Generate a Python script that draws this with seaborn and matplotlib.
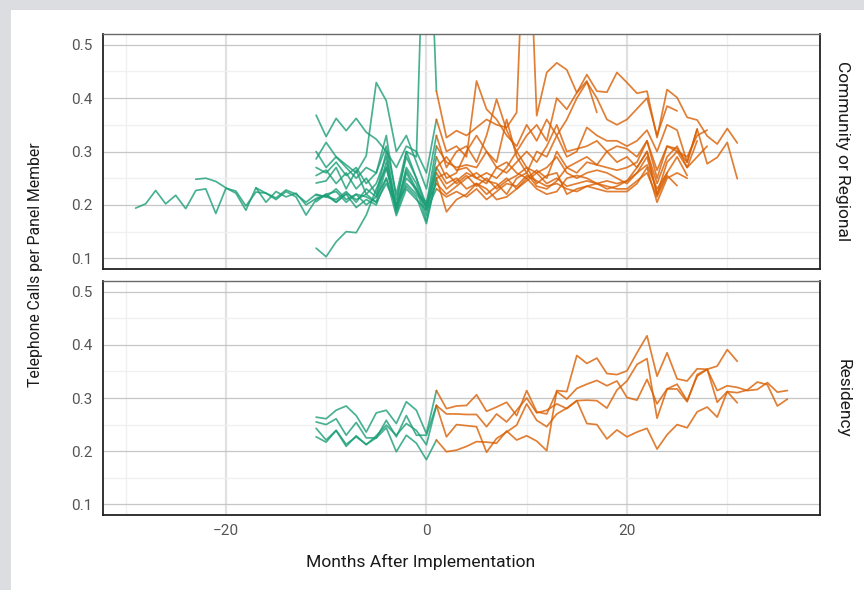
import numpy as np
import pandas as pd
import matplotlib
matplotlib.use("Agg")
import matplotlib.pyplot as plt
import seaborn as sns
from matplotlib.patches import Rectangle
from matplotlib.ticker import FixedLocator

sns.set_theme(style="white")
plt.rcParams['font.family'] = ['Roboto', 'DejaVu Sans']

# ---------------- data ----------------
PANELS = ["Community or Regional", "Residency"]
X_TICKS = [-20, 0, 20]
X_TICK_LABELS = ["\u221220", "0", "20"]
Y_TICKS = [0.1, 0.2, 0.3, 0.4, 0.5]
Y_TICK_LABELS = ["0.1", "0.2", "0.3", "0.4", "0.5"]

# Community or Regional sites: pre-period start month, pre values (to month 0), post values (from month 1)
cr1_start = -29
cr1_pre = [0.194, 0.202, 0.227, 0.202, 0.218, 0.193, 0.227, 0.230, 0.184, 0.231,
           0.226, 0.198, 0.224, 0.222, 0.213, 0.228, 0.220, 0.205,
           0.220, 0.215, 0.210, 0.225, 0.205, 0.230, 0.215, 0.250, 0.195, 0.260, 0.225, 0.205]
cr1_post = [0.27, 0.24, 0.25, 0.23, 0.24, 0.22, 0.235, 0.25, 0.23, 0.245, 0.26, 0.24, 0.25,
            0.235, 0.24, 0.245, 0.24, 0.235, 0.23, 0.23, 0.245, 0.26, 0.215, 0.255, 0.236]

cr2_start = -23
cr2_pre = [0.248, 0.250, 0.244, 0.232, 0.222, 0.190, 0.232, 0.205, 0.225, 0.215, 0.222, 0.200,
           0.212, 0.218, 0.205, 0.222, 0.210, 0.220, 0.205, 0.270, 0.190, 0.265, 0.230, 0.195]
cr2_post = [0.26, 0.23, 0.245, 0.26, 0.25, 0.24, 0.27, 0.28, 0.26, 0.25, 0.265, 0.25, 0.30,
            0.27, 0.28, 0.29, 0.275, 0.27, 0.265, 0.27, 0.28, 0.32, 0.25, 0.31, 0.305, 0.28,
            0.342, 0.277, 0.289, 0.317, 0.249]

cr3_start = -17
cr3_pre = [0.232, 0.222, 0.210, 0.225, 0.215, 0.181,
           0.210, 0.220, 0.225, 0.205, 0.220, 0.215, 0.205, 0.240, 0.200, 0.235, 0.215, 0.165]
cr3_post = [0.25, 0.26, 0.24, 0.255, 0.235, 0.25, 0.23, 0.245, 0.255, 0.27, 0.24, 0.255, 0.26,
            0.22, 0.23, 0.235, 0.23, 0.225, 0.225, 0.225, 0.24, 0.27, 0.205, 0.25, 0.26, 0.25]

cr4_start = -11
cr4_pre = [0.300, 0.270, 0.290, 0.270, 0.250, 0.270, 0.260, 0.310, 0.220, 0.300, 0.290, 0.900]
cr4_post = [0.413, 0.326, 0.339, 0.330, 0.345, 0.360, 0.350, 0.345, 0.373, 0.850, 0.367,
            0.448, 0.466, 0.453, 0.410, 0.444, 0.413, 0.411, 0.448, 0.429, 0.409, 0.413,
            0.326, 0.416, 0.401, 0.364, 0.359, 0.329, 0.314, 0.343, 0.316]

cr5_start = -11
cr5_pre = [0.368, 0.328, 0.362, 0.339, 0.362, 0.336, 0.323, 0.300, 0.270, 0.310, 0.300, 0.260]
cr5_post = [0.36, 0.30, 0.31, 0.29, 0.432, 0.379, 0.36, 0.33, 0.31, 0.35, 0.32, 0.36, 0.33,
            0.36, 0.40, 0.43, 0.40, 0.36, 0.35, 0.36, 0.38, 0.40, 0.33, 0.385, 0.376]

cr6_start = -11
cr6_pre = [0.286, 0.317, 0.290, 0.275, 0.260, 0.292, 0.429, 0.395, 0.300, 0.330, 0.280, 0.230]
cr6_post = [0.33, 0.27, 0.30, 0.31, 0.28, 0.33, 0.398, 0.34, 0.30, 0.33, 0.35, 0.32, 0.40,
            0.379, 0.41, 0.432, 0.373]

cr7_start = -11
cr7_pre = [0.119, 0.103, 0.131, 0.150, 0.148, 0.181, 0.230, 0.270, 0.200, 0.300, 0.250, 0.190]
cr7_post = [0.29, 0.25, 0.26, 0.30, 0.33, 0.30, 0.28, 0.36, 0.29, 0.26, 0.30, 0.29, 0.33,
            0.29, 0.30, 0.345, 0.33, 0.32, 0.32, 0.31, 0.32, 0.34, 0.30, 0.35, 0.34, 0.28, 0.342]

cr8_start = -11
cr8_pre = [0.270, 0.260, 0.280, 0.255, 0.270, 0.240, 0.260, 0.330, 0.210, 0.290, 0.250, 0.200]
cr8_post = [0.31, 0.28, 0.27, 0.275, 0.27, 0.30, 0.27, 0.26, 0.28, 0.30, 0.28, 0.31, 0.35,
            0.30, 0.305, 0.31, 0.32, 0.30, 0.31, 0.305, 0.29, 0.32, 0.265, 0.31, 0.30, 0.29,
            0.33, 0.34]

cr9_start = -11
cr9_pre = [0.255, 0.265, 0.240, 0.260, 0.230, 0.250, 0.220, 0.300, 0.195, 0.270, 0.240, 0.180]
cr9_post = [0.27, 0.29, 0.265, 0.27, 0.25, 0.26, 0.25, 0.27, 0.30, 0.27, 0.26, 0.27, 0.29,
            0.26, 0.25, 0.26, 0.265, 0.26, 0.25, 0.24, 0.26, 0.29, 0.22, 0.28, 0.30, 0.27,
            0.29, 0.31]

cr10_start = -11
cr10_pre = [0.241, 0.245, 0.270, 0.230, 0.265, 0.220, 0.240, 0.290, 0.190, 0.250, 0.230, 0.170]
cr10_post = [0.25, 0.187, 0.21, 0.22, 0.24, 0.23, 0.21, 0.215, 0.23, 0.25, 0.23, 0.22, 0.225,
             0.25, 0.255, 0.25, 0.24, 0.245, 0.24, 0.245, 0.27, 0.30, 0.22, 0.26, 0.29, 0.255]

cr11_start = -11
cr11_pre = [0.218, 0.215, 0.230, 0.210, 0.220, 0.200, 0.215, 0.280, 0.185, 0.240, 0.220, 0.200]
cr11_post = [0.24, 0.22, 0.235, 0.25, 0.26, 0.245, 0.24, 0.22, 0.25, 0.26, 0.235, 0.23, 0.245,
             0.27, 0.26, 0.28, 0.275, 0.30, 0.28, 0.29, 0.27, 0.30, 0.24, 0.29, 0.31, 0.27, 0.32]

cr12_start = -11
cr12_pre = [0.206, 0.220, 0.205, 0.220, 0.195, 0.210, 0.200, 0.250, 0.180, 0.230, 0.210, 0.190]
cr12_post = [0.23, 0.215, 0.225, 0.215, 0.23, 0.21, 0.225, 0.24, 0.235, 0.255, 0.245, 0.235,
             0.24, 0.23, 0.225, 0.235, 0.24, 0.23, 0.235, 0.245, 0.26, 0.275, 0.23, 0.26]

# Residency sites
rs1_start = -11
rs1_pre = [0.227, 0.217, 0.239, 0.213, 0.227, 0.213, 0.225, 0.244, 0.199, 0.230, 0.215, 0.184]
rs1_post = [0.221, 0.199, 0.202, 0.209, 0.218, 0.217, 0.215, 0.238, 0.221, 0.229, 0.219, 0.201,
            0.314, 0.312, 0.380, 0.365, 0.375, 0.346, 0.344, 0.351, 0.385, 0.417, 0.341, 0.385,
            0.336, 0.332, 0.355, 0.354, 0.360, 0.391, 0.369]

rs2_start = -11
rs2_pre = [0.264, 0.261, 0.277, 0.285, 0.267, 0.236, 0.272, 0.277, 0.252, 0.293, 0.277, 0.233]
rs2_post = [0.314, 0.280, 0.285, 0.286, 0.306, 0.275, 0.283, 0.292, 0.267, 0.314, 0.274, 0.270,
            0.312, 0.298, 0.318, 0.326, 0.333, 0.323, 0.332, 0.301, 0.296, 0.335, 0.289, 0.317,
            0.326, 0.295, 0.341, 0.354, 0.292, 0.312, 0.291]

rs3_start = -11
rs3_pre = [0.255, 0.250, 0.261, 0.230, 0.254, 0.225, 0.225, 0.258, 0.227, 0.267, 0.230, 0.230]
rs3_post = [0.286, 0.270, 0.270, 0.269, 0.269, 0.246, 0.270, 0.255, 0.277, 0.300, 0.272,
            0.277, 0.289, 0.280, 0.295, 0.296, 0.295, 0.281, 0.315, 0.332, 0.363, 0.374, 0.262,
            0.317, 0.317, 0.293, 0.344, 0.354, 0.314, 0.323, 0.320, 0.314, 0.316, 0.329, 0.311,
            0.314]

rs4_start = -11
rs4_pre = [0.243, 0.221, 0.239, 0.209, 0.229, 0.212, 0.229, 0.249, 0.230, 0.252, 0.239, 0.212]
rs4_post = [0.286, 0.227, 0.250, 0.248, 0.246, 0.198, 0.224, 0.236, 0.249, 0.289, 0.258, 0.246,
            0.270, 0.281, 0.295, 0.252, 0.250, 0.223, 0.240, 0.227, 0.236, 0.243, 0.204, 0.231,
            0.250, 0.244, 0.274, 0.283, 0.264, 0.312, 0.310, 0.315, 0.330, 0.325, 0.285, 0.298]

SITES = [
    (PANELS[0], "cr1", cr1_start, cr1_pre, cr1_post),
    (PANELS[0], "cr2", cr2_start, cr2_pre, cr2_post),
    (PANELS[0], "cr3", cr3_start, cr3_pre, cr3_post),
    (PANELS[0], "cr4", cr4_start, cr4_pre, cr4_post),
    (PANELS[0], "cr5", cr5_start, cr5_pre, cr5_post),
    (PANELS[0], "cr6", cr6_start, cr6_pre, cr6_post),
    (PANELS[0], "cr7", cr7_start, cr7_pre, cr7_post),
    (PANELS[0], "cr8", cr8_start, cr8_pre, cr8_post),
    (PANELS[0], "cr9", cr9_start, cr9_pre, cr9_post),
    (PANELS[0], "cr10", cr10_start, cr10_pre, cr10_post),
    (PANELS[0], "cr11", cr11_start, cr11_pre, cr11_post),
    (PANELS[0], "cr12", cr12_start, cr12_pre, cr12_post),
    (PANELS[1], "rs1", rs1_start, rs1_pre, rs1_post),
    (PANELS[1], "rs2", rs2_start, rs2_pre, rs2_post),
    (PANELS[1], "rs3", rs3_start, rs3_pre, rs3_post),
    (PANELS[1], "rs4", rs4_start, rs4_pre, rs4_post),
]

# ---------------- build long table ----------------
rows = []
for panel, name, start, pre, post in SITES:
    pre_months = list(range(start, start + len(pre)))
    # green segment is drawn up to the first post month (colour of segment start)
    for m, v in zip(pre_months + [1], pre + [post[0]]):
        rows.append((panel, name, m, v, "pre"))
    for m, v in zip(range(1, len(post) + 1), post):
        rows.append((panel, name, m, v, "post"))
df = pd.DataFrame(rows, columns=["panel", "site", "month", "value", "phase"])

palette = {"pre": "#1b9e77", "post": "#d95f02"}

# ---------------- figure ----------------
W, H = 864, 590
fig = plt.figure(figsize=(W / 100, H / 100), dpi=100)
fig.patch.set_facecolor("#dcdde0")
fig.patches.append(Rectangle((11 / W, 0), 1, 1 - 10 / H, transform=fig.transFigure,
                             facecolor="white", edgecolor="none", zorder=-10))

ax_top = fig.add_axes([103 / W, 1 - 269 / H, 717 / W, 235 / H])
ax_bot = fig.add_axes([103 / W, 1 - 515 / H, 717 / W, 234 / H])

for ax, panel in zip([ax_top, ax_bot], PANELS):
    sub = df[df["panel"] == panel]
    sns.lineplot(data=sub, x="month", y="value", hue="phase", units="site",
                 estimator=None, palette=palette, alpha=0.8, linewidth=1.25,
                 legend=False, ax=ax)
    ax.set_xlim(-32.25, 39.25)
    ax.set_ylim(0.08, 0.52)
    ax.xaxis.set_major_locator(FixedLocator(X_TICKS))
    ax.xaxis.set_minor_locator(FixedLocator([-30, -10, 10, 30]))
    ax.yaxis.set_major_locator(FixedLocator(Y_TICKS))
    ax.yaxis.set_minor_locator(FixedLocator([0.15, 0.25, 0.35, 0.45]))
    ax.set_yticklabels(Y_TICK_LABELS)
    ax.set_xticklabels(X_TICK_LABELS)
    ax.set_axisbelow(True)
    ax.grid(which="minor", axis="both", color="#f0f0f0", linewidth=1.0)
    ax.grid(which="major", axis="x", color="#e1e1e1", linewidth=1.6)
    ax.grid(which="major", axis="y", color="#c6c6c6", linewidth=0.9)
    ax.set_xlabel("")
    ax.set_ylabel("")
    ax.tick_params(axis="both", which="major", length=4.3, width=0.8, color="#333333",
                   labelsize=11, labelcolor="#555555", pad=3.5)
    ax.tick_params(axis="both", which="minor", length=0)
    for side in ["left", "bottom", "right"]:
        ax.spines[side].set_color("#222222")
        ax.spines[side].set_linewidth(1.3)
    ax.spines["top"].set_color("#6a6a6a")
    ax.spines["top"].set_linewidth(1.0)
    ax.text(1.032, 0.5, panel, rotation=-90, va="center", ha="center",
            transform=ax.transAxes, fontsize=12.5, color="#1a1a1a")

ax_top.tick_params(axis="x", which="major", length=0, labelbottom=False)
ax_bot.tick_params(axis="x", which="major", pad=2.5)

fig.text(36 / W, 1 - 265 / H, "Telephone Calls per Panel Member", rotation=90,
         va="center", ha="center", fontsize=11.3, color="#1a1a1a")
fig.text(420.5 / W, 1 - 562 / H, "Months After Implementation", va="center", ha="center",
         fontsize=12.6, color="#1a1a1a")

fig.savefig("out.png", dpi=100, facecolor=fig.get_facecolor())
